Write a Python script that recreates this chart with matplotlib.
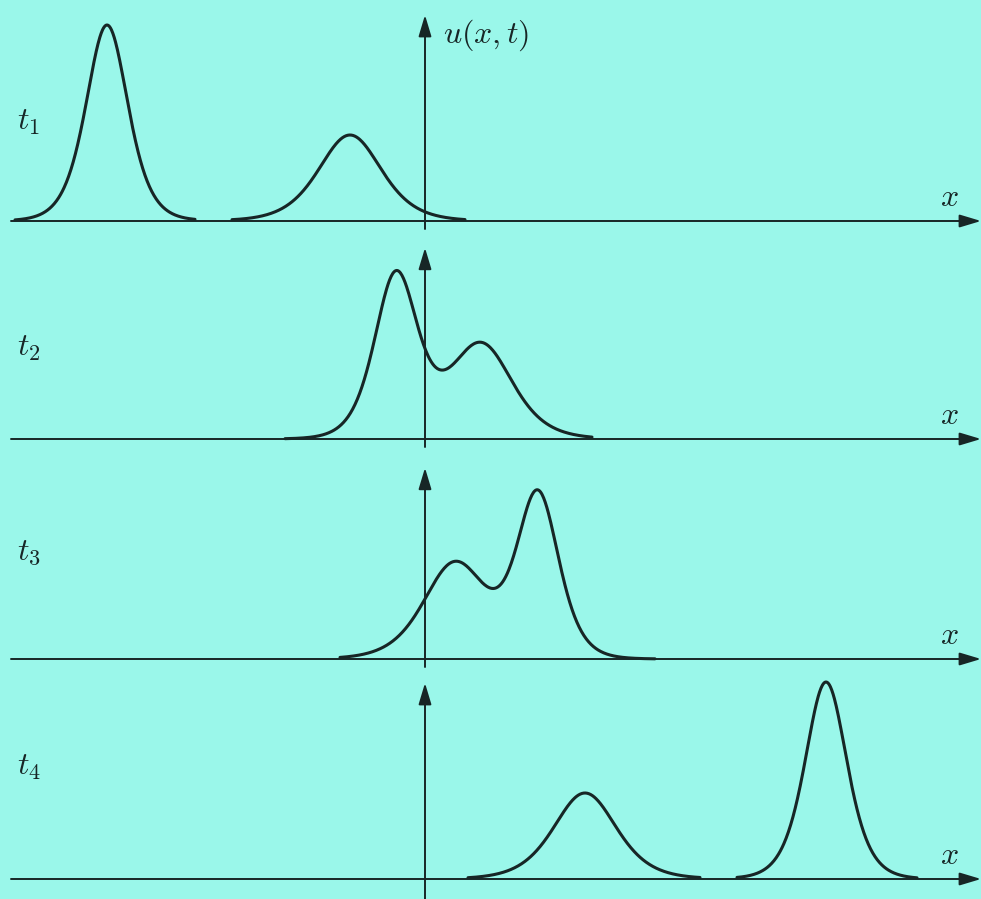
import numpy as np
import matplotlib.pyplot as plt
from matplotlib.patches import FancyArrowPatch

# Two-soliton collision, four snapshots t1..t4
time_labels = ['$t_1$', '$t_2$', '$t_3$', '$t_4$']

# pulse peak positions, heights and widths (x units)
centers = [[-7.95, -1.875], [-0.725, 1.4], [0.75, 2.825], [4.0, 10.025]]
heights = [[4.9, 2.15], [4.05, 2.375], [2.4, 4.05], [2.15, 4.925]]
widths = [[0.7, 1.05], [0.72, 1.05], [1.05, 0.7], [1.05, 0.7]]

# x ranges over which each curve piece is drawn
segments = [[(-10.25, -5.75), (-4.825, 1.0)],
            [(-3.5, 4.175)],
            [(-2.125, 5.75)],
            [(1.075, 6.875), (7.8, 12.3)]]

bg = '#9AF7EA'
ink = '#172626'

plt.rcParams['mathtext.fontset'] = 'cm'

fig = plt.figure(figsize=(9.81, 8.99), dpi=100, facecolor=bg)
ax = fig.add_axes([0, 0, 1, 1])
ax.set_facecolor(bg)
ax.set_xlim(-10.625, 13.9)
ax.set_ylim(0, 22.475)
ax.axis('off')

baselines = [16.95, 11.5, 6.0, 0.5]
vtops = [5.15, 4.78, 4.78, 4.9]
label_dy = [2.5, 2.3, 2.7, 2.8]


def arrow(p0, p1):
    a = FancyArrowPatch(p0, p1, arrowstyle='-|>,head_length=1.0,head_width=0.3',
                        mutation_scale=13, color=ink, lw=1.4, shrinkA=0, shrinkB=0)
    ax.add_patch(a)


for i, y0 in enumerate(baselines):
    # axes
    arrow((-10.35, y0), (13.9, y0))
    ybot = 0 if i == 3 else y0 - 0.2
    arrow((0, ybot), (0, y0 + vtops[i]))

    # curve pieces
    for xa, xb in segments[i]:
        x = np.linspace(xa, xb, 400)
        u = np.zeros_like(x)
        for c, h, w in zip(centers[i], heights[i], widths[i]):
            u += h / np.cosh((x - c) / w) ** 2
        ax.plot(x, y0 + u, color=ink, lw=2.2, solid_capstyle='round')

    ax.text(-10.2, y0 + label_dy[i], time_labels[i], fontsize=23, color=ink,
            ha='left', va='center')
    ax.text(13.1, y0 + 0.6, '$x$', fontsize=23, color=ink, ha='center', va='center')

ax.text(0.45, 21.6, '$u(x,t)$', fontsize=23, color=ink, ha='left', va='center')

fig.savefig('out.png', dpi=100, facecolor=bg)
